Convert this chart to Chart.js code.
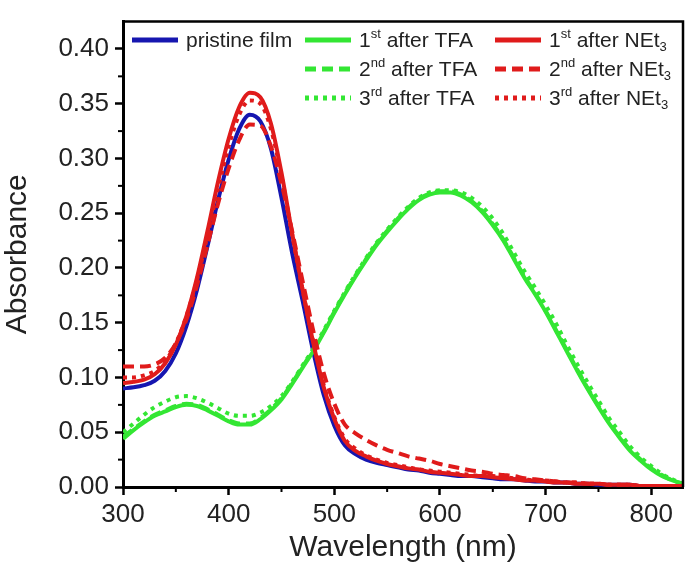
<!DOCTYPE html>
<html>
<head>
<meta charset="utf-8">
<script src="https://cdn.jsdelivr.net/npm/chart.js@4"></script>
<style>
  html, body { margin: 0; padding: 0; background: #fff; }
</style>
</head>
<body>
<canvas id="chart" width="686" height="568"></canvas>
<script>
// wavelength grid (nm)
const wavelengths = [300, 310, 320, 330, 340, 350, 360, 370, 380, 390, 400, 410, 420, 430, 440, 450, 460, 470, 480, 490,
  500, 510, 520, 530, 540, 550, 560, 570, 580, 590, 600, 610, 620, 630, 640, 650, 660, 670, 680, 690,
  700, 710, 720, 730, 740, 750, 760, 770, 780, 790, 800, 810, 820, 830];

const pristine = [.090, .091, .093, .097, .106, .122, .147, .180, .220, .262, .299, .327, .340, .334, .309, .264, .214, .170, .124, .084,
  .056, .038, .030, .025, .022, .020, .018, .016, .015, .013, .012, .011, .010, .010, .009, .008, .007, .007, .006, .005,
  .005, .004, .004, .003, .003, .002, .002, .002, .002, .001, .001, .001, .001, .001];

const tfa1 = [.044, .052, .059, .065, .069, .073, .075, .074, .070, .065, .060, .057, .057, .062, .070, .080, .094, .109, .124, .141,
  .159, .176, .192, .207, .221, .233, .244, .254, .262, .267, .269, .269, .266, .260, .251, .239, .225, .208, .191, .176,
  .160, .142, .124, .106, .089, .073, .058, .045, .033, .024, .016, .010, .006, .003];

const tfa2 = [.046, .053, .060, .066, .070, .074, .076, .075, .071, .066, .061, .058, .058, .063, .071, .081, .095, .110, .125, .142,
  .160, .177, .193, .208, .222, .234, .245, .255, .263, .268, .270, .270, .267, .261, .252, .240, .226, .209, .192, .177,
  .161, .143, .125, .107, .090, .074, .059, .046, .034, .025, .017, .011, .006, .003];

const tfa3 = [.050, .058, .066, .073, .078, .082, .083, .081, .077, .072, .067, .065, .065, .068, .074, .083, .096, .111, .126, .143,
  .161, .178, .194, .209, .223, .235, .246, .256, .264, .269, .271, .271, .269, .264, .256, .245, .231, .214, .197, .182,
  .166, .149, .130, .112, .095, .079, .063, .050, .037, .027, .019, .012, .007, .003];

const net1 = [.095, .096, .098, .103, .113, .130, .156, .191, .234, .279, .318, .347, .360, .356, .332, .287, .232, .180, .132, .091,
  .062, .042, .033, .028, .024, .021, .019, .017, .016, .014, .013, .012, .011, .010, .010, .009, .008, .007, .006, .006,
  .005, .004, .004, .003, .003, .003, .002, .002, .002, .001, .001, .001, .001, .001];

const net2 = [.110, .110, .110, .112, .118, .131, .153, .184, .221, .259, .291, .317, .331, .330, .311, .277, .234, .188, .143, .104,
  .076, .057, .049, .043, .038, .034, .031, .028, .026, .024, .021, .019, .017, .015, .014, .012, .011, .010, .008, .007,
  .006, .005, .004, .004, .003, .003, .002, .002, .002, .001, .001, .001, .001, .001];

const net3 = [.100, .100, .102, .106, .115, .131, .156, .189, .230, .273, .311, .340, .353, .350, .327, .284, .231, .180, .133, .093,
  .064, .044, .035, .029, .025, .022, .020, .018, .016, .015, .014, .013, .012, .011, .010, .010, .009, .008, .007, .006,
  .006, .005, .004, .004, .003, .003, .002, .002, .002, .001, .001, .001, .001, .001];

const xTicks = [300, 400, 500, 600, 700, 800];
const yTicks = [0, 0.05, 0.10, 0.15, 0.20, 0.25, 0.30, 0.35, 0.40];

const seriesLabels = [
  'pristine film',
  '1^{st} after TFA', '2^{nd} after TFA', '3^{rd} after TFA',
  '1^{st} after NEt_{3}', '2^{nd} after NEt_{3}', '3^{rd} after NEt_{3}'
];

const BLUE = '#1616b0';
const GREEN = '#33e633';
const RED = '#e01b1b';
const FONT = "'Liberation Sans', Arial, sans-serif";

function pts(arr) {
  return wavelengths.map((w, i) => ({ x: w, y: arr[i] }));
}

function makeSet(label, arr, color, dash, order) {
  return {
    label: label,
    data: pts(arr),
    borderColor: color,
    backgroundColor: color,
    borderWidth: 4,
    borderDash: dash,
    pointRadius: 0,
    fill: false,
    cubicInterpolationMode: 'monotone',
    order: order
  };
}

// minor ticks + box frame
const framePlugin = {
  id: 'frame',
  afterDraw(chart) {
    const ctx = chart.ctx;
    const a = chart.chartArea;
    const xs = chart.scales.x, ys = chart.scales.y;
    ctx.save();
    ctx.strokeStyle = '#000';
    ctx.lineWidth = 2;
    for (let i = 0; i < xTicks.length; i++) {
      const v = i < xTicks.length - 1 ? (xTicks[i] + xTicks[i + 1]) / 2 : xTicks[i] + 50;
      if (v > xs.max) continue;
      const px = xs.getPixelForValue(v);
      ctx.beginPath();
      ctx.moveTo(px, a.bottom);
      ctx.lineTo(px, a.bottom + 5);
      ctx.stroke();
    }
    for (let i = 0; i < yTicks.length - 1; i++) {
      const v = (yTicks[i] + yTicks[i + 1]) / 2;
      const py = ys.getPixelForValue(v);
      ctx.beginPath();
      ctx.moveTo(a.left, py);
      ctx.lineTo(a.left - 5, py);
      ctx.stroke();
    }
    ctx.lineWidth = 2.5;
    ctx.beginPath();
    ctx.moveTo(a.left, a.top);
    ctx.lineTo(a.right, a.top);
    ctx.lineTo(a.right, a.bottom);
    ctx.stroke();
    ctx.restore();
  }
};

// legend with super/subscripts
function drawRich(ctx, text, x, y) {
  const parts = text.split(/(\^\{[^}]*\}|_\{[^}]*\})/).filter(s => s.length);
  parts.forEach(p => {
    let dy = 0, size = 21, t = p;
    if (p.startsWith('^{')) { t = p.slice(2, -1); size = 13; dy = -7; }
    else if (p.startsWith('_{')) { t = p.slice(2, -1); size = 13; dy = 6; }
    ctx.font = size + 'px ' + FONT;
    ctx.fillText(t, x, y + dy);
    x += ctx.measureText(t).width;
  });
}

const legendPlugin = {
  id: 'richLegend',
  afterDraw(chart) {
    const ctx = chart.ctx;
    const cols = [{ lx: 132, tx: 186 }, { lx: 305, tx: 359 }, { lx: 495, tx: 549 }];
    const rows = [40, 69, 98];
    const slots = [[0, 0], [1, 0], [1, 1], [1, 2], [2, 0], [2, 1], [2, 2]];
    ctx.save();
    chart.data.datasets.forEach((ds, i) => {
      const c = cols[slots[i][0]], y = rows[slots[i][1]];
      ctx.strokeStyle = ds.borderColor;
      ctx.lineWidth = 5;
      ctx.setLineDash(ds.borderDash);
      ctx.beginPath();
      ctx.moveTo(c.lx, y);
      ctx.lineTo(c.lx + 46, y);
      ctx.stroke();
      ctx.setLineDash([]);
      ctx.fillStyle = '#222';
      ctx.textBaseline = 'middle';
      ctx.textAlign = 'left';
      drawRich(ctx, seriesLabels[i], c.tx, y + 1);
    });
    ctx.restore();
  }
};

new Chart(document.getElementById('chart'), {
  type: 'line',
  data: {
    datasets: [
      makeSet(seriesLabels[0], pristine, BLUE, [], 3),
      makeSet(seriesLabels[1], tfa1, GREEN, [], 2),
      makeSet(seriesLabels[2], tfa2, GREEN, [11, 6], 2),
      makeSet(seriesLabels[3], tfa3, GREEN, [4, 5], 2),
      makeSet(seriesLabels[4], net1, RED, [], 1),
      makeSet(seriesLabels[5], net2, RED, [11, 6], 1),
      makeSet(seriesLabels[6], net3, RED, [4, 5], 1)
    ]
  },
  options: {
    responsive: false,
    animation: false,
    layout: { padding: { top: 14, right: 3, left: 0, bottom: 0 } },
    plugins: {
      legend: { display: false },
      tooltip: { enabled: false }
    },
    scales: {
      x: {
        type: 'linear',
        min: 300,
        max: 830,
        afterBuildTicks: s => { s.ticks = xTicks.map(v => ({ value: v })); },
        afterFit: s => { s.height = 81; },
        ticks: { font: { size: 26, family: FONT }, color: '#222', padding: 4, maxRotation: 0, autoSkip: false },
        grid: { drawOnChartArea: false, tickLength: 8, tickWidth: 2.5, tickColor: '#000' },
        border: { color: '#000', width: 3 },
        title: { display: true, text: 'Wavelength (nm)', font: { size: 30, family: FONT }, color: '#222', padding: { top: 0, bottom: 2 } }
      },
      y: {
        min: 0,
        max: 0.425,
        afterBuildTicks: s => { s.ticks = yTicks.map(v => ({ value: v })); },
        afterFit: s => { s.width = 123; },
        ticks: { font: { size: 26, family: FONT }, color: '#222', padding: 6, callback: v => v.toFixed(2) },
        grid: { drawOnChartArea: false, tickLength: 8, tickWidth: 2.5, tickColor: '#000' },
        border: { color: '#000', width: 3 },
        title: { display: true, text: 'Absorbance', font: { size: 30, family: FONT }, color: '#222', padding: { top: 0, bottom: 4 } }
      }
    }
  },
  plugins: [framePlugin, legendPlugin]
});
</script>
</body>
</html>
